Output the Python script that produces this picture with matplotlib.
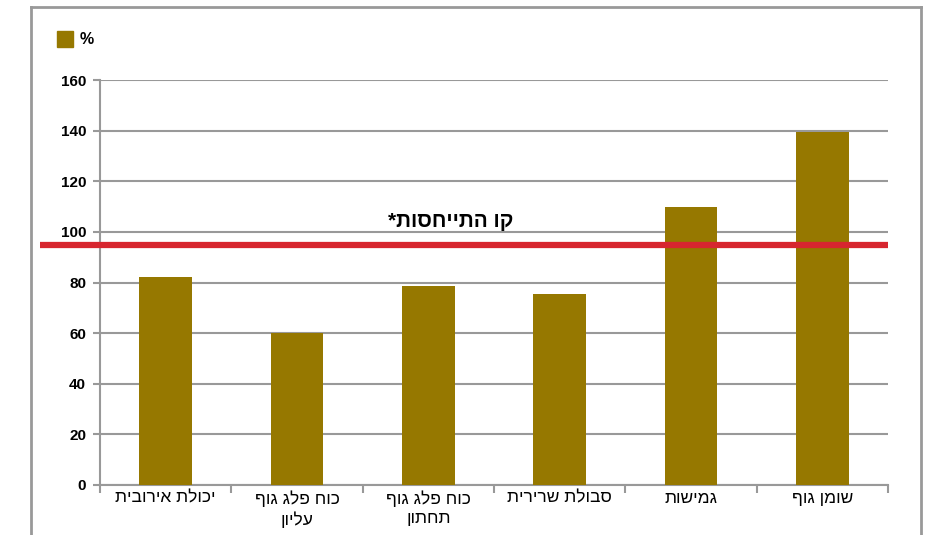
import matplotlib
matplotlib.use("Agg")
from matplotlib import pyplot as plt
from matplotlib.lines import Line2D
from matplotlib.patches import Rectangle
import numpy as np

plt.rcParams['font.family'] = ['Liberation Sans', 'DejaVu Sans']

# data
categories = ["יכולת אירובית", "כוח פלג גוף\nעליון", "כוח פלג גוף\nתחתון",
              "סבולת שרירית", "גמישות", "שומן גוף"]
values = [82, 60, 78.7, 75.4, 109.8, 139.5]
ref_value = 95
ref_label = "קו התייחסות*"
legend_label = "%"
yticks = [0, 20, 40, 60, 80, 100, 120, 140, 160]

bar_color = '#967800'
red = '#d7262f'
grey = '#999999'


def heb(s):
    # matplotlib has no bidi, so flip each line by hand
    return '\n'.join(line[::-1] for line in s.split('\n'))


W, H = 937, 535
fig = plt.figure(figsize=(W / 100, H / 100), dpi=100)
ax = fig.add_axes([100 / W, 1 - 485 / H, 788 / W, 405 / H])

x = np.arange(len(categories))
ax.bar(x, values, width=0.4, color=bar_color, zorder=3)

ax.set_xlim(-0.5, len(categories) - 0.5)
ax.set_ylim(0, 160)
ax.set_yticks(yticks)
ax.set_yticklabels([str(t) for t in yticks], fontsize=11, fontweight='bold')
ax.yaxis.grid(True, color=grey, lw=1.5, zorder=0)
ax.set_axisbelow(True)

ax.set_xticks(x)
ax.set_xticklabels([heb(c) for c in categories], fontsize=12.5, linespacing=1.3)
ax.tick_params(axis='x', length=0, pad=4)
ax.set_xticks(np.arange(-0.5, len(categories)), minor=True)
ax.tick_params(axis='x', which='minor', length=6, width=1.5, color=grey)
ax.tick_params(axis='y', length=5, width=1.5, color=grey, pad=5)

for s in ['top', 'right']:
    ax.spines[s].set_visible(False)
for s in ['left', 'bottom']:
    ax.spines[s].set_color(grey)
    ax.spines[s].set_linewidth(1.5)

# reference line, runs out past the y axis
ax.plot([-0.96, len(categories) - 0.5], [ref_value, ref_value], color=red, lw=4.5,
        clip_on=False, zorder=4, solid_capstyle='butt')
ax.text(2.17, ref_value + 9, heb(ref_label), fontsize=15, fontweight='bold',
        ha='center', va='center')

# legend
fig.patches.append(Rectangle((57 / W, 1 - 47 / H), 16 / W, 16 / H,
                             transform=fig.transFigure, color=bar_color))
fig.text(80 / W, 1 - 40 / H, legend_label, fontsize=11.5, fontweight='bold', va='center')

# outer frame
fx0, fx1, fy = 31 / W, 921 / W, 1 - 7 / H
for xs, ys in [([fx0, fx0], [0, fy]), ([fx0, fx1], [fy, fy]), ([fx1, fx1], [fy, 0])]:
    fig.add_artist(Line2D(xs, ys, transform=fig.transFigure, color=grey, lw=2))

fig.savefig("out.png", dpi=100)
